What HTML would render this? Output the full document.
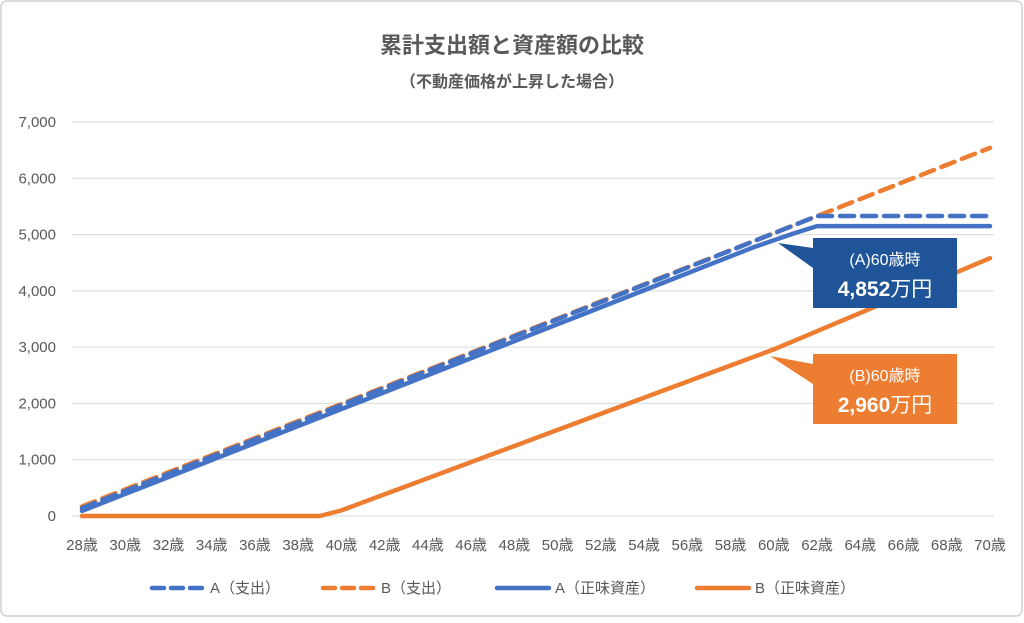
<!DOCTYPE html>
<html><head><meta charset="utf-8"><style>
body{margin:0;background:#fff;font-family:"Liberation Sans","Noto Sans CJK JP",sans-serif;}
svg text{font-family:"Liberation Sans","Noto Sans CJK JP",sans-serif;}
</style></head><body>
<svg id="chart" width="1024" height="618" xmlns="http://www.w3.org/2000/svg">
<rect x="1" y="1" width="1021" height="615" rx="6" fill="#fff" stroke="#d0d0d0" stroke-width="1.5"/>
<text x="512" y="53" text-anchor="middle" font-size="22" font-weight="bold" fill="#595959">累計支出額と資産額の比較</text>
<text x="512" y="87" text-anchor="middle" font-size="16" fill="#595959" font-weight="bold">（不動産価格が上昇した場合）</text>
<g id="grid"></g><g id="yticks"></g><g id="xticks"></g><g id="series"></g>
<g>
<polygon points="813,248 778,243 813,268" fill="#1f5598"/>
<rect x="813" y="238" width="144" height="70" fill="#1f5598"/>
<text x="885" y="265" text-anchor="middle" font-size="16" fill="#fff">(A)60歳時</text>
<text x="885" y="296" text-anchor="middle" font-size="21" font-weight="bold" fill="#fff">4,852<tspan font-weight="normal">万円</tspan></text>
</g>
<g>
<polygon points="813,364 770,356 813,384" fill="#ed7d31"/>
<rect x="813" y="354" width="144" height="70" fill="#ed7d31"/>
<text x="885" y="381" text-anchor="middle" font-size="16" fill="#fff">(B)60歳時</text>
<text x="885" y="412" text-anchor="middle" font-size="21" font-weight="bold" fill="#fff">2,960<tspan font-weight="normal">万円</tspan></text>
</g>
<g id="legend"></g>
</svg>
<script>
const ages=[];for(let a=28;a<=70;a++)ages.push(a);
const yTicks=[0,1000,2000,3000,4000,5000,6000,7000];
const yTickLabels=["0","1,000","2,000","3,000","4,000","5,000","6,000","7,000"];
const aSpend=[140,293,445,598,750,903,1056,1208,1361,1513,1666,1819,1971,2124,2276,2429,2582,2734,2887,3039,3192,3345,3497,3650,3802,3955,4108,4260,4413,4565,4718,4871,5023,5176,5330,5330,5330,5330,5330,5330,5330,5330,5330];
const bSpend=[170,322,473,625,777,929,1080,1232,1384,1535,1687,1839,1990,2142,2294,2446,2597,2749,2901,3052,3204,3356,3507,3659,3811,3963,4114,4266,4418,4569,4721,4873,5024,5176,5328,5480,5631,5783,5935,6086,6238,6390,6540];
const aAsset=[90,241,392,542,693,844,995,1146,1296,1447,1598,1749,1900,2050,2201,2352,2503,2654,2804,2955,3106,3257,3408,3558,3709,3860,4011,4162,4312,4463,4614,4765,4900,5030,5150,5150,5150,5150,5150,5150,5150,5150,5150];
const bAsset=[0,0,0,0,0,0,0,0,0,0,0,0,100,243,386,529,672,815,958,1101,1244,1387,1530,1673,1816,1959,2102,2245,2388,2531,2674,2817,2960,3122,3284,3446,3608,3770,3932,4094,4256,4418,4580];
const NS="http://www.w3.org/2000/svg";
const x0=82,x1=990,yb=516,yt=122;
const X=i=>x0+i*(x1-x0)/(ages.length-1);
const Y=v=>yb-v/7000*(yb-yt);
function mk(t,attrs,parent,txt){const e=document.createElementNS(NS,t);for(const k in attrs)e.setAttribute(k,attrs[k]);if(txt!==undefined)e.textContent=txt;document.getElementById(parent).appendChild(e);return e;}
yTicks.forEach((v,i)=>{
 const l=mk('line',{x1:72,x2:994,y1:Y(v),y2:Y(v),stroke:'#d9d9d9','stroke-width':1},'grid');
 
 
 const t=mk('text',{x:56,y:Y(v)+5,'text-anchor':'end','font-size':15,fill:'#595959'},'yticks',yTickLabels[i]);
 
 
});
ages.forEach((a,i)=>{if(a%2)return;
 const t=mk('text',{x:X(i),y:550,'text-anchor':'middle','font-size':15,fill:'#595959'},'xticks',a+'歳');
 
 
});
const series=[
 {d:bAsset,c:'#ed7d31',dash:null,name:'series-b-asset'},
 {d:aAsset,c:'#4472c4',dash:null,name:'series-a-asset'},
 {d:bSpend,c:'#ed7d31',dash:'14,8',name:'series-b-spend'},
 {d:aSpend,c:'#4472c4',dash:'14,8',name:'series-a-spend'}];
series.forEach(s=>{
 const p=mk('polyline',{points:s.d.map((v,i)=>X(i)+','+Y(v)).join(' '),fill:'none',stroke:s.c,'stroke-width':4.5,'stroke-linecap':'round','stroke-linejoin':'round'},'series');
 if(s.dash)p.setAttribute('stroke-dasharray',s.dash);
 
 
});
const leg=[{x:152,c:'#4472c4',dash:true,t:'A（支出）'},{x:323,c:'#ed7d31',dash:true,t:'B（支出）'},{x:497,c:'#4472c4',dash:false,t:'A（正味資産）'},{x:697,c:'#ed7d31',dash:false,t:'B（正味資産）'}];
leg.forEach(l=>{
 const ln=mk('line',{x1:l.x,x2:l.x+52,y1:588,y2:588,stroke:l.c,'stroke-width':4.5,'stroke-linecap':'round'},'legend');
 if(l.dash)ln.setAttribute('stroke-dasharray','12,7');
 
 
 const t=mk('text',{x:l.x+58,y:593,'font-size':15,fill:'#595959'},'legend',l.t);
 
 
});
</script>
</body></html>
